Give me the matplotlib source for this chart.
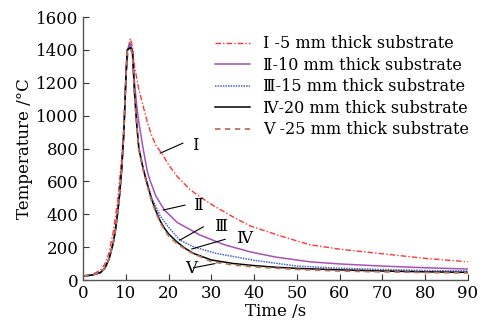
import matplotlib
matplotlib.use("Agg")
import matplotlib.pyplot as plt

# Temperature histories for the five substrate thicknesses
t_1 = [0, 2, 4, 5, 6, 7, 8, 9, 9.5, 10, 10.5, 11, 11.5, 12, 12.5, 13, 14, 15, 16, 17,
       18.5, 20, 22, 25, 27.3, 30, 35, 39, 45, 50, 53, 60, 70, 80, 90]
temp_1 = [25, 32, 60, 95, 165, 290, 470, 750, 950, 1230, 1410, 1470, 1420, 1300, 1230,
          1160, 1060, 960, 880, 820, 766, 700, 630, 550, 507, 460, 385, 330, 278, 238,
          215, 188, 160, 132, 111]

t_2 = [0, 2, 4, 5, 6, 7, 7.5, 8, 8.5, 9, 9.5, 10, 10.3, 11, 11.5, 12, 12.5, 13, 14,
       15, 15.6, 17, 19, 22, 27.3, 33, 39, 45, 53, 60, 70, 80, 90]
temp_2 = [25, 30, 45, 70, 125, 225, 300, 400, 520, 680, 900, 1250, 1400, 1440, 1400,
          1200, 1060, 960, 800, 660, 608, 510, 426, 350, 274, 215, 172, 140, 111, 98,
          85, 75, 67]

t_3 = [0, 2, 4, 5, 6, 7, 7.5, 8, 8.5, 9, 9.5, 10, 10.3, 11, 11.5, 12, 12.5, 13, 14,
       15, 16, 18, 20, 22.6, 26, 31.2, 40, 50, 60, 70, 80, 90]
temp_3 = [25, 30, 45, 70, 125, 225, 300, 400, 520, 680, 900, 1250, 1400, 1430, 1390,
          1160, 960, 810, 680, 590, 500, 390, 320, 243, 200, 162, 120, 85, 72, 64, 58, 55]

t_4 = [0, 2, 4, 5, 6, 7, 7.5, 8, 8.5, 9, 9.5, 10, 10.3, 11, 11.5, 12, 12.5, 13, 14,
       15, 16, 17, 18, 19, 20, 22, 24, 26, 30, 35, 40, 45, 50, 60, 70, 80, 90]
temp_4 = [25, 30, 45, 70, 125, 225, 300, 400, 520, 680, 900, 1250, 1400, 1415, 1390,
          1130, 950, 800, 680, 580, 490, 420, 360, 315, 280, 230, 190, 160, 122, 101,
          88, 78, 71, 62, 55, 50, 47]

t_5 = [0, 2, 4, 5, 6, 7, 7.5, 8, 8.5, 9, 9.5, 10, 10.3, 11, 11.5, 12, 12.5, 13, 14,
       15, 16, 17, 18, 19, 20, 22, 25, 30, 35, 40, 50, 60, 70, 80, 90]
temp_5 = [25, 30, 45, 70, 125, 225, 300, 400, 520, 680, 900, 1250, 1400, 1410, 1380,
          1120, 940, 790, 670, 570, 480, 410, 350, 305, 268, 220, 170, 112, 92, 80, 65,
          55, 50, 46, 43]

legend_labels = ["\u2160 -5 mm thick substrate", "\u2161-10 mm thick substrate",
                 "\u2162-15 mm thick substrate", "\u2163-20 mm thick substrate",
                 "\u2164 -25 mm thick substrate"]

# callout labels: text, text position, line start, line end (curve point)
callouts = [
    ("\u2160", (25.5, 821), (23.3, 833), (18.0, 772)),
    ("\u2161", (25.6, 456), (23.8, 456), (18.7, 426)),
    ("\u2162", (30.6, 324), (28.1, 324), (22.6, 243)),
    ("\u2163", (35.7, 254), (33.2, 248), (25.4, 189)),
    ("\u2164", (23.9, 71), (25.8, 75), (30.8, 100)),
]

plt.rcParams['font.family'] = ['DejaVu Serif', 'Noto Sans CJK JP']
plt.rcParams['mathtext.fontset'] = 'dejavuserif'

fig = plt.figure(figsize=(4.94, 3.33), dpi=100)
ax = fig.add_axes([0.1686, 0.159, 0.7784, 0.7896])

ax.plot(t_1, temp_1, color='#ff3535', lw=1.0, linestyle=(0, (4, 1.5, 1, 1.5)), label=legend_labels[0])
ax.plot(t_2, temp_2, color='#a850b8', lw=1.1, linestyle='-', label=legend_labels[1])
ax.plot(t_3, temp_3, color='#4a62d0', lw=1.1, linestyle=(0, (1, 0.7)), label=legend_labels[2])
ax.plot(t_4, temp_4, color='black', lw=1.1, linestyle='-', label=legend_labels[3])
ax.plot(t_5, temp_5, color='#b8735a', lw=1.3, linestyle=(0, (3, 2.5)), label=legend_labels[4])

for txt, pos, p0, p1 in callouts:
    ax.plot([p0[0], p1[0]], [p0[1], p1[1]], color='black', lw=0.8)
    ax.text(pos[0], pos[1], txt, fontsize=12, ha='left', va='center')

ax.set_xlim(0, 90)
ax.set_ylim(0, 1600)
ax.set_xticks(range(0, 91, 10))
ax.set_yticks(range(0, 1601, 200))
ax.tick_params(direction='in', length=4, width=0.8, labelsize=12, colors='#333333',
               labelcolor='black')
ax.spines['top'].set_visible(False)
ax.spines['right'].set_visible(False)
for s in ('left', 'bottom'):
    ax.spines[s].set_color('#555555')
    ax.spines[s].set_linewidth(1.0)

ax.set_xlabel("Time /s", fontsize=12, labelpad=1)
ax.set_ylabel("Temperature /\u00b0C", fontsize=12, labelpad=2)

ax.legend(loc='upper right', bbox_to_anchor=(1.02, 0.955), frameon=False, fontsize=11.5,
          handlelength=2.2, handletextpad=0.8, labelspacing=0.28, borderaxespad=0)

fig.savefig("out.png", dpi=100)
